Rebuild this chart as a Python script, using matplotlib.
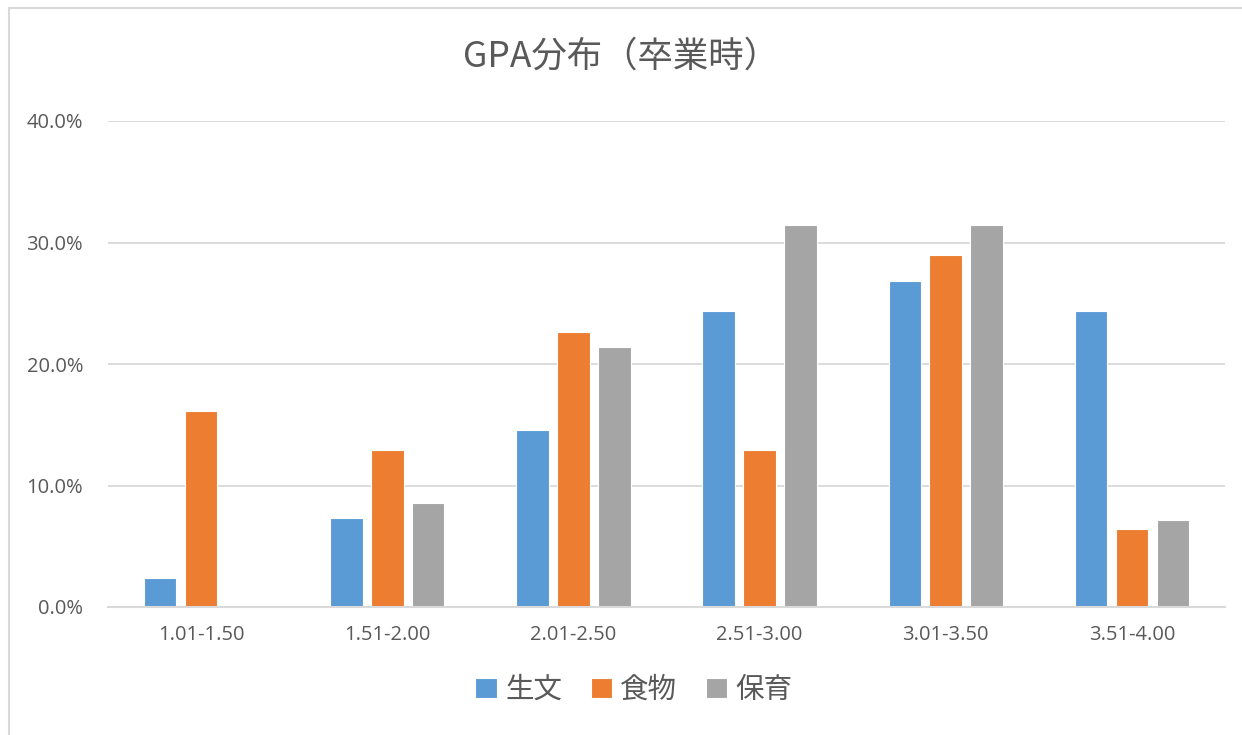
import matplotlib
matplotlib.use("Agg")
import matplotlib.pyplot as plt
import numpy as np
from matplotlib.patches import Rectangle
from matplotlib.ticker import PercentFormatter

plt.rcParams['font.family'] = ['Noto Sans CJK JP', 'DejaVu Sans']

categories = ["1.01-1.50", "1.51-2.00", "2.01-2.50", "2.51-3.00", "3.01-3.50", "3.51-4.00"]
series_names = ["生文", "食物", "保育"]
seikatsu = [2.4, 7.3, 14.6, 24.4, 26.8, 24.4]
shokumotsu = [16.1, 12.9, 22.6, 12.9, 29.0, 6.4]
hoiku = [0.0, 8.6, 21.4, 31.4, 31.4, 7.2]
colors = ["#5B9BD5", "#ED7D31", "#A5A5A5"]

fig = plt.figure(figsize=(12.42, 7.35), dpi=100)
fig.patches.append(Rectangle((9/1242, -0.1), 1.2, (735-8)/735 + 0.1, transform=fig.transFigure,
                             fill=False, edgecolor="#D9D9D9", linewidth=1.5))
ax = fig.add_axes([108/1242, 1-607/735, (1225-108)/1242, (607-121)/735])

x = np.arange(len(categories))
w = 0.175
offs = [-0.22, 0.0, 0.22]
for vals, off, c, name in zip([seikatsu, shokumotsu, hoiku], offs, colors, series_names):
    ax.bar(x + off, vals, width=w, color=c, edgecolor="white", linewidth=0.8, label=name, zorder=3)

ax.set_xlim(-0.5, len(categories) - 0.5)
ax.set_ylim(0, 40)
ax.set_yticks([0, 10, 20, 30, 40])
ax.yaxis.set_major_formatter(PercentFormatter(decimals=1))
ax.set_xticks(x)
ax.set_xticklabels(categories)
ax.grid(axis='y', color="#D9D9D9", linewidth=1.3, zorder=0)
for s in ["top", "right", "left"]:
    ax.spines[s].set_visible(False)
ax.spines["bottom"].set_color("#D9D9D9")
ax.spines["bottom"].set_linewidth(1.5)
ax.spines["bottom"].set_zorder(4)
ax.tick_params(axis='both', length=0, colors="#595959", labelsize=14.5)
ax.tick_params(axis='x', pad=13)
ax.tick_params(axis='y', pad=18)
for lab in ax.get_yticklabels() + ax.get_xticklabels():
    lab.set_family(['Open Sans', 'DejaVu Sans'])

fig.text(621/1242, 1-57/735, "GPA分布（卒業時）", ha='center', va='center', fontsize=25.5, color="#595959")

leg = fig.legend(loc='center', bbox_to_anchor=(634/1242, 1-690/735), ncol=3, frameon=False,
                 fontsize=20.5, handlelength=0.75, handleheight=0.75, handletextpad=0.3, columnspacing=1.0)
for t in leg.get_texts():
    t.set_color("#595959")

fig.savefig("out.png", dpi=100, facecolor="white")
